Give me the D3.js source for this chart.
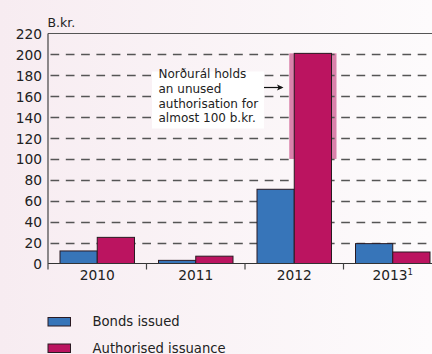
<!DOCTYPE html>
<html>
<head>
<meta charset="utf-8">
<script src="https://cdn.jsdelivr.net/npm/d3@7"></script>
<style>
  html, body { margin: 0; padding: 0; }
  body { width: 432px; height: 354px; overflow: hidden; }
  svg { display: block; font-family: "DejaVu Sans", sans-serif; }
</style>
</head>
<body>
<svg id="chart" width="432" height="354"></svg>
<script>
// Bond issuance by year, in billions of krónur
const years = ["2010", "2011", "2012", "2013"];
const yearNotes = ["", "", "", "1"];
const seriesNames = ["Bonds issued", "Authorised issuance"];
const bondsIssued = [12, 3, 71, 19];
const authorisedIssuance = [25, 7, 201, 11];
const yTicks = [0, 20, 40, 60, 80, 100, 120, 140, 160, 180, 200, 220];
const unusedRange = [100, 201]; // Norðurál's unused authorisation within 2012
const noteLines = ["Norðurál holds", "an unused", "authorisation for", "almost 100 b.kr."];

const colors = ["#3775b9", "#bb1460"];
const W = 432, H = 354;
const plotLeft = 48, plotTop = 33.5, plotBottom = 263.5, bandRight = 442;
const ink = "#222";

const svg = d3.select("#chart");

// pink-to-white backdrop
const grad = svg.append("defs").append("linearGradient")
  .attr("id", "bg").attr("x1", "0").attr("x2", "1").attr("y1", "0").attr("y2", "0");
grad.append("stop").attr("offset", "0%").attr("stop-color", "#f7ecf1");
grad.append("stop").attr("offset", "100%").attr("stop-color", "#fdfbfc");
svg.append("rect").attr("width", W).attr("height", H).attr("fill", "url(#bg)");

const x = d3.scaleBand().domain(years).range([plotLeft, bandRight]).padding(0);
const inner = d3.scaleBand().domain(seriesNames).range([12, x.bandwidth() - 12]).padding(0);
const y = d3.scaleLinear().domain([0, 220]).range([plotBottom, plotTop]);

const rows = years.map((yr, i) => ({
  year: yr,
  values: [bondsIssued[i], authorisedIssuance[i]]
}));

// unused authorisation band behind the 2012 bar
svg.append("rect")
  .attr("x", x("2012") + inner(seriesNames[1]) - 5)
  .attr("width", inner.bandwidth() + 10)
  .attr("y", y(unusedRange[1]))
  .attr("height", y(unusedRange[0]) - y(unusedRange[1]))
  .attr("fill", "#da82ab");

// dashed gridlines
svg.append("g").selectAll("line")
  .data(yTicks.filter(t => t > 0 && t < 220))
  .join("line")
  .attr("x1", plotLeft + 2.5).attr("x2", W)
  .attr("y1", d => Math.round(y(d)) + 0.5).attr("y2", d => Math.round(y(d)) + 0.5)
  .attr("stroke", "#555").attr("stroke-width", 1.3)
  .attr("stroke-dasharray", "8.7,6.6");

// bars
const groups = svg.append("g").selectAll("g")
  .data(rows).join("g")
  .attr("transform", d => `translate(${x(d.year)},0)`);
groups.selectAll("rect")
  .data(d => d.values.map((v, k) => ({ v, k })))
  .join("rect")
  .attr("x", d => inner(seriesNames[d.k]))
  .attr("width", inner.bandwidth())
  .attr("y", d => y(d.v))
  .attr("height", d => y(0) - y(d.v))
  .attr("fill", d => colors[d.k])
  .attr("stroke", "#2a1a22").attr("stroke-width", 1);

// frame: top rule and baseline
svg.append("line").attr("x1", plotLeft).attr("x2", W).attr("y1", plotTop).attr("y2", plotTop)
  .attr("stroke", "#555").attr("stroke-width", 1.2);
svg.append("line").attr("x1", plotLeft).attr("x2", W).attr("y1", plotBottom).attr("y2", plotBottom)
  .attr("stroke", "#333").attr("stroke-width", 1.2);

// value axis
const yAxis = svg.append("g").attr("transform", `translate(${plotLeft},0)`)
  .call(d3.axisLeft(y).tickValues(yTicks).tickSize(0).tickPadding(6));
yAxis.select(".domain").remove();
yAxis.append("line").attr("x1", 0).attr("x2", 0).attr("y1", plotTop).attr("y2", plotBottom + 6)
  .attr("stroke", "#444").attr("stroke-width", 1.2);
yAxis.selectAll(".tick text")
  .attr("font-size", 13.8).attr("fill", ink).attr("font-family", "DejaVu Sans, sans-serif")
  .attr("dy", "0.36em");

// category separators and year labels
const xAxis = svg.append("g");
xAxis.selectAll("line.sep")
  .data(years.slice(1))
  .join("line").attr("class", "sep")
  .attr("x1", d => x(d)).attr("x2", d => x(d))
  .attr("y1", plotBottom).attr("y2", plotBottom + 6)
  .attr("stroke", "#444").attr("stroke-width", 1.2);
const yearLabels = xAxis.selectAll("text")
  .data(years)
  .join("text")
  .attr("x", d => x(d) + x.bandwidth() / 2)
  .attr("y", 280)
  .attr("text-anchor", "middle")
  .attr("font-size", 13.8).attr("fill", ink);
yearLabels.append("tspan").text(d => d);
yearLabels.filter((d, i) => yearNotes[i])
  .append("tspan")
  .attr("font-size", 8.5).attr("dy", -5.5)
  .text(d => yearNotes[years.indexOf(d)]);

// unit label
svg.append("text").attr("x", plotLeft - 0.5).attr("y", 26.5)
  .attr("font-size", 12.5).attr("fill", ink).text("B.kr.");

// annotation box with arrow
svg.append("rect").attr("x", 152).attr("y", 71.5).attr("width", 112).attr("height", 57)
  .attr("fill", "#ffffff");
svg.append("g").selectAll("text")
  .data(noteLines).join("text")
  .attr("x", 158.5).attr("y", (d, i) => 77.7 + i * 14.9)
  .attr("font-size", 12).attr("fill", ink).text(d => d);
svg.append("line").attr("x1", 264).attr("x2", 282).attr("y1", 87.5).attr("y2", 87.5)
  .attr("stroke", "#111").attr("stroke-width", 1.2);
svg.append("path").attr("d", "M283.5,87.5 L277,84.5 L278.5,87.5 L277,90.5 Z").attr("fill", "#111");

// legend
const legend = svg.append("g").selectAll("g")
  .data(seriesNames).join("g")
  .attr("transform", (d, i) => `translate(48,${317.5 + i * 26.5})`);
legend.append("rect").attr("width", 22.5).attr("height", 8.5)
  .attr("fill", (d, i) => colors[i]).attr("stroke", "#2a1a22").attr("stroke-width", 1);
legend.append("text").attr("x", 44.5).attr("y", 8.8)
  .attr("font-size", 13.2).attr("fill", ink).text(d => d);
</script>
</body>
</html>
